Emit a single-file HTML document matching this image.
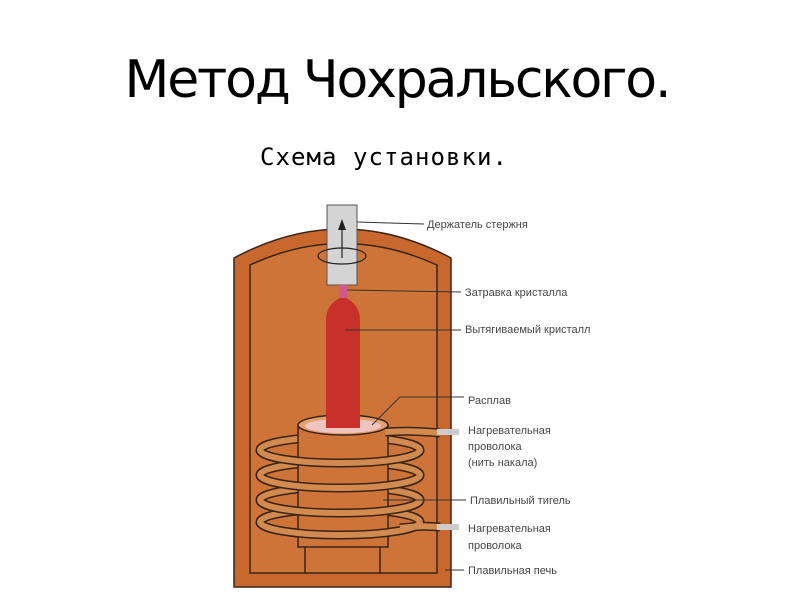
<!DOCTYPE html>
<html><head><meta charset="utf-8"><style>
html,body{margin:0;padding:0;background:#fff;width:800px;height:600px;overflow:hidden}
</style></head><body>
<svg width="800" height="600" viewBox="0 0 800 600" xmlns="http://www.w3.org/2000/svg">
<text x="398" y="97" text-anchor="middle" font-family="DejaVu Sans, sans-serif" font-size="52" textLength="547" fill="#000">Метод Чохральского.</text>
<text x="260" y="165" font-family="DejaVu Sans Mono, monospace" font-size="24" textLength="247" fill="#000">Схема установки.</text>
<!-- furnace outer -->
<path d="M234,258 Q342,200 451,258 L451,587 L234,587 Z" fill="#c8682f" stroke="#3a2418" stroke-width="1.5"/>
<!-- inner -->
<path d="M250,265 Q342,222 437,265 L437,573 L250,573 Z" fill="#cf7438" stroke="#3a2418" stroke-width="1.5"/>
<!-- holder -->
<rect x="327" y="205" width="30" height="80" fill="#d4d4d4" stroke="#555" stroke-width="1"/>
<line x1="342" y1="258" x2="342" y2="225" stroke="#222" stroke-width="1.2"/>
<polygon points="338,230 346,230 342,219" fill="#222"/>
<ellipse cx="342" cy="256" rx="24" ry="8" fill="none" stroke="#222" stroke-width="1.2"/>
<!-- seed -->
<rect x="339" y="285" width="8" height="15" fill="#d05a8c"/>
<!-- crystal -->
<path d="M326,433 L326,320 Q326,305 340,298 L346,298 Q360,305 360,320 L360,433 Z" fill="#c8302a"/>
<!-- back coils -->
<g fill="none" stroke="#3a2418" stroke-width="9">
<ellipse cx="340" cy="450" rx="80" ry="13"/>
<ellipse cx="340" cy="475" rx="80" ry="13"/>
<ellipse cx="340" cy="500" rx="80" ry="13"/>
<ellipse cx="340" cy="522" rx="80" ry="13"/>
</g>
<g fill="none" stroke="#d38a4e" stroke-width="6">
<ellipse cx="340" cy="450" rx="80" ry="13"/>
<ellipse cx="340" cy="475" rx="80" ry="13"/>
<ellipse cx="340" cy="500" rx="80" ry="13"/>
<ellipse cx="340" cy="522" rx="80" ry="13"/>
</g>
<!-- crucible -->
<rect x="298" y="425" width="90" height="122" fill="#cf7438" stroke="#3a2418" stroke-width="1.5"/>
<line x1="305" y1="547" x2="305" y2="573" stroke="#3a2418" stroke-width="1.5"/>
<line x1="380" y1="547" x2="380" y2="573" stroke="#3a2418" stroke-width="1.5"/>
<ellipse cx="343" cy="425" rx="45" ry="10" fill="#e3a070" stroke="#3a2418" stroke-width="1.5"/>
<ellipse cx="343" cy="426" rx="38" ry="7" fill="#f0c4c0"/>
<rect x="326" y="400" width="34" height="28" fill="#c8302a"/>
<!-- front coil arcs -->
<g fill="none" stroke="#3a2418" stroke-width="9">
<path d="M260,450 A80,13 0 0 0 420,450"/>
<path d="M260,475 A80,13 0 0 0 420,475"/>
<path d="M260,500 A80,13 0 0 0 420,500"/>
<path d="M260,522 A80,13 0 0 0 420,522"/>
<path d="M385,432 Q410,430 440,433"/>
<path d="M400,528 Q420,525 440,527"/>
</g>
<g fill="none" stroke="#d38a4e" stroke-width="6">
<path d="M260,450 A80,13 0 0 0 420,450"/>
<path d="M260,475 A80,13 0 0 0 420,475"/>
<path d="M260,500 A80,13 0 0 0 420,500"/>
<path d="M260,522 A80,13 0 0 0 420,522"/>
<path d="M385,432 Q410,430 440,433"/>
<path d="M400,528 Q420,525 440,527"/>
</g>
<rect x="437" y="429" width="22" height="6" fill="#ccc"/>
<rect x="437" y="524" width="22" height="6" fill="#ccc"/>
<!-- leader lines -->
<g stroke="#333" stroke-width="1" fill="none">
<line x1="357" y1="222" x2="424" y2="224"/>
<line x1="347" y1="290" x2="461" y2="292"/>
<line x1="345" y1="330" x2="461" y2="330"/>
<path d="M372,425 L400,397 L464,397"/>
<line x1="383" y1="500" x2="466" y2="500"/>
<line x1="445" y1="570" x2="464" y2="570"/>
</g>
<g font-family="Liberation Sans, sans-serif" font-size="11" fill="#444">
<text x="427" y="228">Держатель стержня</text>
<text x="465" y="296">Затравка кристалла</text>
<text x="465" y="333">Вытягиваемый кристалл</text>
<text x="468" y="404">Расплав</text>
<text x="468" y="434">Нагревательная</text>
<text x="468" y="450">проволока</text>
<text x="468" y="466">(нить накала)</text>
<text x="470" y="504">Плавильный тигель</text>
<text x="468" y="532">Нагревательная</text>
<text x="468" y="549">проволока</text>
<text x="468" y="574">Плавильная печь</text>
</g>
</svg>
</body></html>
